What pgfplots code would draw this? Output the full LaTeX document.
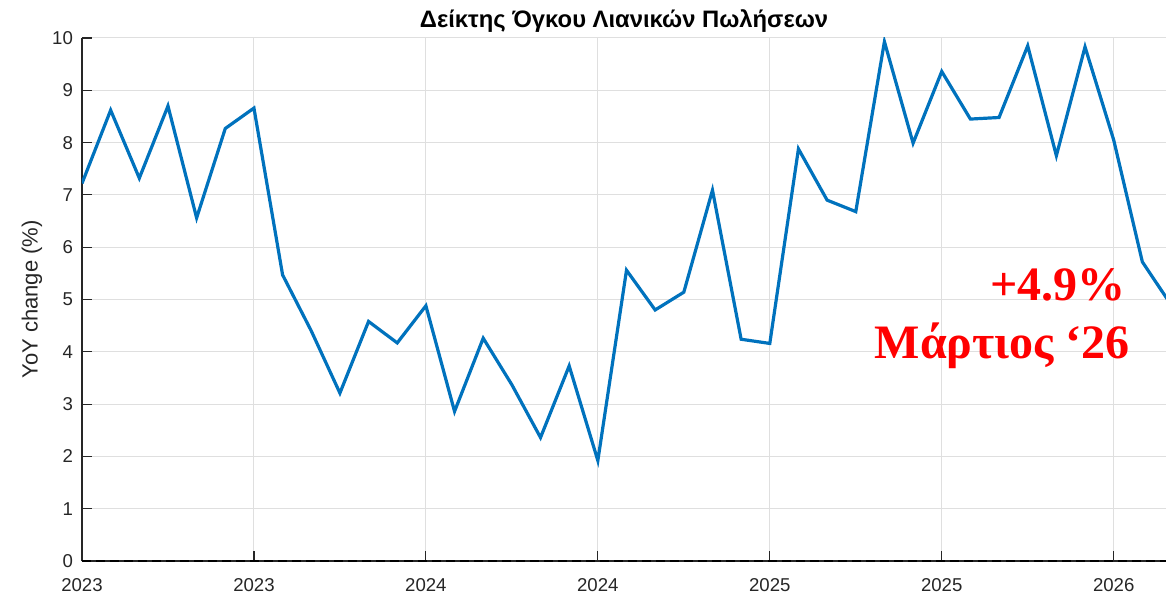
\documentclass[border=0pt]{standalone}
\usepackage{fontspec}
\setmainfont{Liberation Sans}
\newfontfamily\annfont{Liberation Serif}
\usepackage{pgfplots}
\pgfplotsset{compat=1.18}
\definecolor{mblue}{RGB}{0,114,189}
\definecolor{axgray}{RGB}{38,38,38}
\definecolor{gridgray}{RGB}{223,223,223}
\definecolor{annred}{RGB}{255,0,0}

\begin{document}
\begin{tikzpicture}
\begin{axis}[
 scale only axis, width=544.5pt, height=261.5pt,
 xmin=0, xmax=38, ymin=0, ymax=10,
 axis x line*=bottom, axis y line*=left,
 axis line style={draw=axgray, line width=0.6pt, -},
 xtick={0,6,...,36}, xticklabels={2023,2023,2024,2024,2025,2025,2026},
 ytick={0,1,...,10},
 tick align=inside, major tick length=5pt,
 tick style={draw=axgray, line width=0.6pt},
 grid=major, grid style={draw=gridgray, line width=0.5pt},
 ticklabel style={font=\fontsize{9.3}{11}\selectfont, text=axgray},
 /pgf/number format/assume math mode=true,
 xticklabel style={yshift=-5pt},
 yticklabel style={xshift=-1pt},
 ylabel={YoY change (\%)},
 ylabel style={font=\fontsize{11}{13}\selectfont, text=axgray, at={(axis description cs:0,0.5)}, anchor=center, yshift=25pt},
]
\addplot[mblue, line width=1.6pt] coordinates {
(0,7.22) (1,8.62) (2,7.32) (3,8.70) (4,6.56) (5,8.27) (6,8.66) (7,5.47) (8,4.40) (9,3.21)
(10,4.58) (11,4.17) (12,4.88) (13,2.86) (14,4.26) (15,3.37) (16,2.36) (17,3.73) (18,1.92) (19,5.56)
(20,4.80) (21,5.14) (22,7.09) (23,4.24) (24,4.16) (25,7.88) (26,6.90) (27,6.68) (28,9.93) (29,7.99)
(30,9.36) (31,8.45) (32,8.48) (33,9.85) (34,7.75) (35,9.83) (36,8.05) (37,5.72) (38,4.90)
};
\addplot[black, line width=0.75pt, dash pattern=on 4.5pt off 2.5pt] coordinates {(0,0) (38,0)};
\node[anchor=base east, inner sep=0pt, text=annred, font=\annfont\bfseries\fontsize{24}{28}\selectfont] at (axis cs:36.43,4.99) {+4.9\%};
\node[anchor=base east, inner sep=0pt, text=annred, font=\annfont\bfseries\fontsize{24}{28}\selectfont] at (axis cs:36.58,3.87) {Μάρτιος ‘26};
\coordinate (sw) at (rel axis cs:0,0);
\coordinate (ne) at (rel axis cs:1,1);
\coordinate (nt) at (rel axis cs:0.4977,1);
\end{axis}
\node[anchor=base, inner sep=0pt, font=\bfseries\fontsize{11.9}{13}\selectfont] at ([yshift=5pt]nt) {Δείκτης Όγκου Λιανικών Πωλήσεων};
\pgfresetboundingbox
\path[use as bounding box] ([xshift=-41pt,yshift=-16.5pt]sw) rectangle ([xshift=-2.5pt,yshift=19pt]ne);
\end{tikzpicture}
\end{document}
